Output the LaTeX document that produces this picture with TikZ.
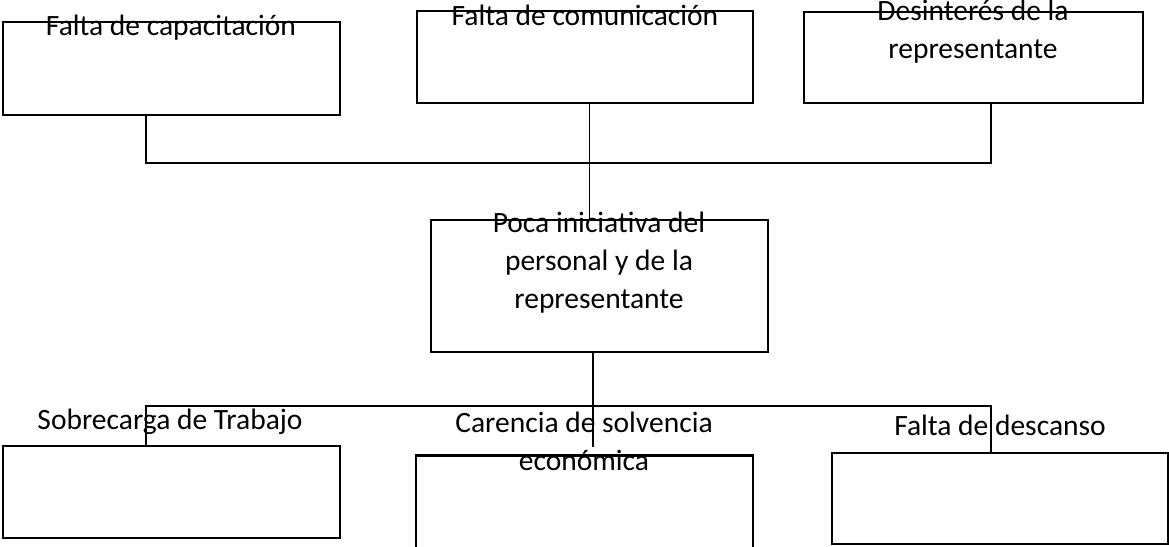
\documentclass[tikz,border=0pt]{standalone}
\usepackage{fontspec}
\setmainfont{Carlito}
\begin{document}
\begin{tikzpicture}[x=1pt,y=-1pt,
  box/.style={draw, line width=2.8pt, inner sep=0pt, minimum width=#1},
  box/.default=337pt,
  conn/.style={line width=1.3pt},
  lbl/.style={anchor=base, align=center, inner sep=0pt,
    font=\fontsize{29.5}{38}\selectfont}]
\useasboundingbox (0,0) rectangle (1169,546);
% boxes
\node[box, minimum height=93pt] (b1) at (171.5,68.5) {};
\node[box=336pt, minimum height=92pt] (b2) at (585,57) {};
\node[box=339pt, minimum height=91pt] (b3) at (973.5,57.5) {};
\node[box, minimum height=132pt] (m) at (599.5,286) {};
\node[box, minimum height=92pt] (b4) at (171.5,492) {};
\node[box, minimum height=93pt] (b5) at (584.5,502) {};
\node[box=336pt, minimum height=91pt] (b6) at (1000,498.5) {};
% labels (base anchor = last line baseline)
\node[lbl] (l1) at (171,35) {Falta de capacitación};
\node[lbl] (l2) at (585,25) {Falta de comunicación};
\node[lbl] (l3) at (973,58) {Desinterés de la\\representante};
\node[lbl] (lm) at (599,308) {Poca iniciativa del\\personal y de la\\representante};
\node[lbl] (l4) at (170,429) {Sobrecarga de Trabajo};
\node[lbl] (l5) at (584,470) {Carencia de solvencia\\económica};
\node[lbl] (l6) at (1000,435) {Falta de descanso};
% junctions
\coordinate (t1) at (146,163);
\coordinate (t3) at (991,163);
\coordinate (v2) at (589.5,163);
\coordinate (v5) at (593,447);
\coordinate (s1) at (146,406);
\coordinate (s3) at (991,406);
% connectors
\draw[conn] (b1.south -| t1) -- (t1) -- (t3) -- (b3.south -| t3);
\draw[conn] (b2.south -| v2) -- (m.north -| v2);
\draw[conn] (m.south -| v5) -- (v5);
\draw[conn] (b4.north -| s1) -- (s1) -- (s3) -- (b6.north -| s3);
\end{tikzpicture}
\end{document}
